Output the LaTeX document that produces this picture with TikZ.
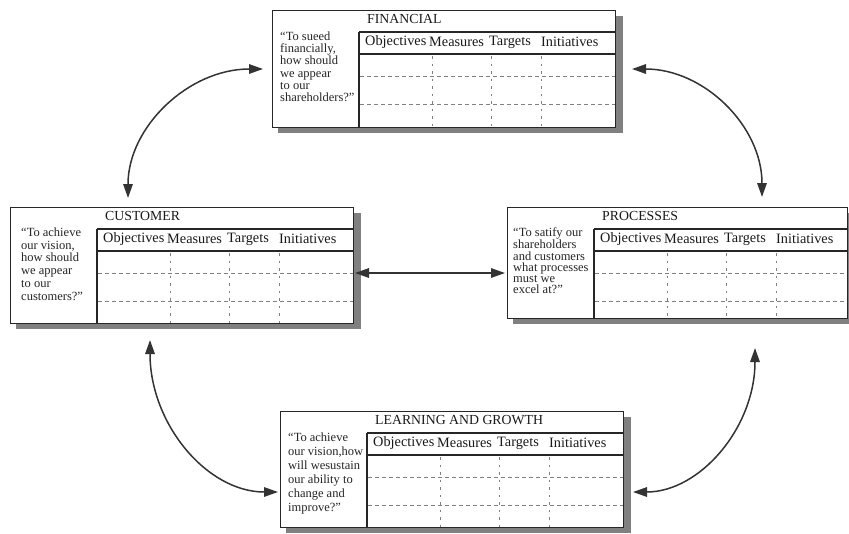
\documentclass[tikz,border=0pt]{standalone}
\usepackage{fontspec}
\setmainfont{Liberation Serif}
\usetikzlibrary{arrows.meta,calc}
\tikzset{
 panel/.style={draw=black!85, line width=1.2pt, fill=white, inner sep=0pt, rectangle},
 panelshadow/.style={fill=black!50},
 rulel/.style={draw=black!85, line width=1.3pt},
 rowdash/.style={draw=black!50, line width=0.8pt, dash pattern=on 4pt off 3pt},
 coldash/.style={draw=black!50, line width=0.8pt, dash pattern=on 2.5pt off 5pt},
 hdr/.style={font=\fontsize{14.3}{16}\selectfont, inner sep=0pt, anchor=west, text=black!90},
 ttl/.style={font=\fontsize{13.8}{15}\selectfont, inner sep=0pt, anchor=west, text=black!90},
 quest/.style={inner sep=0pt, anchor=north west, align=left, text=black!85},
 link/.style={draw=black!80, line width=1.5pt, {Triangle[length=14pt,width=9.5pt]}-{Triangle[length=14pt,width=9.5pt]}},
}
\newcommand\bscpanel[6]{%
 \fill[panelshadow] ({#2+6},{#3+6}) rectangle ({#4+8},{#5+6});
 \node[panel, anchor=north west, minimum width={#4-#2}, minimum height={#5-#3}] (#1) at (#2,#3) {};
 \draw[rulel] ({#2+87},{#3+22}) -- ({#2+87},#5);
 \draw[rulel] ({#2+87},{#3+22}) -- (#4,{#3+22});
 \draw[rulel] ({#2+87},{#3+44}) -- (#4,{#3+44});
 \draw[rowdash] ({#2+88},{#3+66}) -- (#4,{#3+66});
 \draw[rowdash] ({#2+88},{#3+94}) -- (#4,{#3+94});
 \draw[coldash] ({#2+160},{#3+46}) -- ({#2+160},#5);
 \draw[coldash] ({#2+219},{#3+46}) -- ({#2+219},#5);
 \draw[coldash] ({#2+269},{#3+46}) -- ({#2+269},#5);
 \node[ttl] (#1-ttl) at ({#2+95},{#3+9}) {#6};
 \node[hdr] (#1-obj) at ({#2+93},{#3+32}) {Objectives};
 \node[hdr] (#1-mea) at ({#2+157},{#3+32}) {Measures};
 \node[hdr] (#1-tar) at ({#2+217},{#3+32}) {Targets};
 \node[hdr] (#1-ini) at ({#2+269},{#3+32}) {Initiatives};
}
\begin{document}
\begin{tikzpicture}[x=1pt,y=-1pt]
\useasboundingbox (0,0) rectangle (849,533);
\fill[white] (0,0) rectangle (849,533);

\bscpanel{fin}{272}{10}{615}{127}{FINANCIAL}
\bscpanel{cust}{10}{207}{353}{323}{CUSTOMER}
\bscpanel{proc}{507}{207}{847}{318}{PROCESSES}
\bscpanel{learn}{280}{411}{623}{527}{LEARNING AND GROWTH}

\node[quest, font=\fontsize{12.5}{12.3}\selectfont] (fin-q) at (280,31.5)
 {“To sueed\\financially,\\how should\\we appear\\to our\\shareholders?”};
\node[quest, font=\fontsize{12.5}{12.8}\selectfont] (cust-q) at (21,227.5)
 {“To achieve\\our vision,\\how should\\we appear\\to our\\customers?”};
\node[quest, font=\fontsize{12.5}{11.2}\selectfont] (proc-q) at (513,227.5)
 {“To satify our\\shareholders\\and customers\\what processes\\must we\\excel at?”};
\node[quest, font=\fontsize{12.5}{14}\selectfont] (learn-q) at (288,432.5)
 {“To achieve\\our vision,how\\will wesustain\\our ability to\\change and\\improve?”};

% arrow end points
\coordinate (finW) at (263,69);
\coordinate (finE) at (632,69);
\coordinate (custN) at (128,198);
\coordinate (custS) at (150,340);
\coordinate (custE) at (355,273);
\coordinate (procW) at (505,273);
\coordinate (procN) at (762,197);
\coordinate (procS) at (755,348);
\coordinate (learnW) at (278,492);
\coordinate (learnE) at (633,492);

\draw[link] (finW) .. controls (188.5,69) and (128,127) .. (custN);
\draw[link] (finE) .. controls (704,69) and (762,126) .. (procN);
\draw[link] (custS) .. controls (150,424) and (207,492) .. (learnW);
\draw[link] (procS) .. controls (755,427.5) and (700,492) .. (learnE);
\draw[link] (custE) -- (procW);
\end{tikzpicture}
\end{document}
